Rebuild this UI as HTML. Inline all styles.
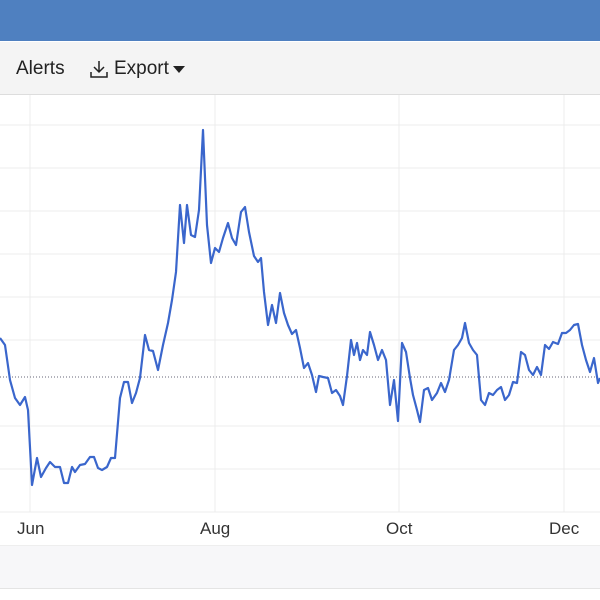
<!DOCTYPE html>
<html><head><style>
body{margin:0;width:600px;height:600px;overflow:hidden;background:#fff;font-family:"Liberation Sans",sans-serif;position:relative}
.hdr{position:absolute;left:0;top:0;width:600px;height:41px;background:#4f80c0}
.tb{position:absolute;left:0;top:42px;width:600px;height:52px;background:#f4f4f4;border-bottom:1px solid #ddd}
.tb span{position:absolute;top:16px;font-size:19px;color:#222}
.lbl{position:absolute;top:519px;font-size:17px;color:#333}
.band{position:absolute;left:0;top:545px;width:600px;height:42px;background:#f7f7f9;border-top:1px solid #eee;border-bottom:1px solid #e4e4e4}
</style></head><body>
<div class="hdr"></div>
<div class="tb"><span style="left:16px">Alerts</span>
<svg style="position:absolute;left:89px;top:17px" width="20" height="20" viewBox="0 0 20 20"><path d="M10 2v11M5 8l5 5 5-5M2 13v5h16v-5" fill="none" stroke="#222" stroke-width="1.5"/></svg>
<span style="left:114px">Export</span>
<svg style="position:absolute;left:173px;top:24px" width="12" height="8"><path d="M0 0h12L6 7z" fill="#222"/></svg></div>
<svg style="position:absolute;left:0;top:95px" width="600" height="450" viewBox="0 95 600 450">
<g stroke="#ececec" stroke-width="1">
<path d="M0 125H600M0 168H600M0 211H600M0 254H600M0 297H600M0 340H600M0 426H600M0 469H600M0 512H600M30 95V512M215 95V512M399 95V512M564 95V512"/></g>
<path d="M0 377H600" stroke="#667" stroke-width="1" stroke-dasharray="1,2"/>
<polyline fill="none" stroke="#3a66cc" stroke-width="2.2" stroke-linejoin="round" points="0,338 5,345 10,380 15,398 20,405 25,397 28,410 32,485 37,458 41,477 46,468 50,462 55,467 60,467 64,483 68,483 72,467 75,472 80,465 85,464 90,457 94,457 98,468 102,470 107,467 111,458 115,458 120,398 124,382 128,382 132,403 136,393 140,378 145,335 149,350 153,351 158,370 163,345 168,323 172,300 176,272 180,205 184,243 187,205 191,235 195,237 199,210 203,130 207,225 211,263 215,248 219,252 223,238 228,223 232,238 236,245 241,212 245,207 249,232 254,256 258,262 261,258 264,292 268,325 272,305 276,323 280,293 284,313 288,325 292,334 296,330 300,348 304,368 308,363 312,375 316,392 319,376 323,377 328,378 332,393 336,390 340,396 343,405 347,376 351,340 354,355 357,343 360,360 363,350 367,355 370,332 374,345 378,360 382,350 386,360 390,405 394,380 398,421 402,343 406,352 410,378 413,395 417,410 420,422 424,390 428,388 432,400 437,393 441,383 445,392 449,380 454,350 458,345 462,338 465,323 469,343 473,350 477,355 481,400 485,405 489,393 493,395 497,390 501,387 505,400 509,395 513,382 517,383 521,352 525,355 529,370 533,375 537,367 541,375 545,345 549,349 553,342 558,344 562,333 566,333 570,330 574,325 578,324 582,345 586,360 590,372 594,358 598,383 600,378"/>
</svg>
<div class="lbl" style="left:17px">Jun</div>
<div class="lbl" style="left:200px">Aug</div>
<div class="lbl" style="left:386px">Oct</div>
<div class="lbl" style="left:549px">Dec</div>
<div class="band"></div>
</body></html>
